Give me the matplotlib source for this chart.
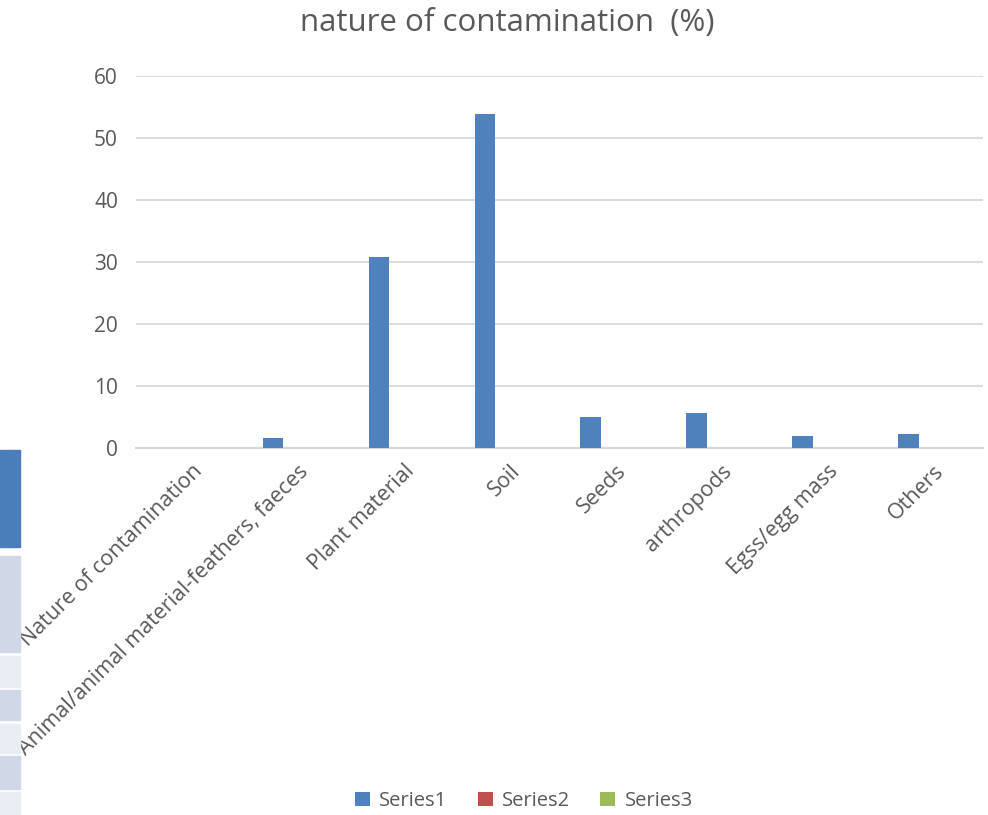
import numpy as np
import matplotlib.pyplot as plt
from matplotlib.patches import Rectangle
import matplotlib.transforms as mtransforms

plt.rcParams['font.family'] = ['Open Sans', 'DejaVu Sans']

categories = ['Nature of contamination',
              'Animal/animal material-feathers, faeces',
              'Plant material', 'Soil', 'Seeds', 'arthropods',
              'Egss/egg mass', 'Others']
series1 = [0, 1.7, 30.8, 53.8, 5.1, 5.7, 2.0, 2.35]
series2 = [0, 0, 0, 0, 0, 0, 0, 0]
series3 = [0, 0, 0, 0, 0, 0, 0, 0]
series_names = ['Series1', 'Series2', 'Series3']
colors = ['#4F81BD', '#C0504D', '#9BBB59']
yticks = [0, 10, 20, 30, 40, 50, 60]

txt = '#595959'
W, H = 988, 815
fig = plt.figure(figsize=(W / 100, H / 100), dpi=100)
ax = fig.add_axes([136 / W, 1 - 448.3 / H, (983 - 136) / W, (448.3 - 75.7) / H])

x = np.arange(len(categories))
bw = 0.195
for k, vals in enumerate([series1, series2, series3]):
    ax.bar(x + (k - 1) * 0.205, vals, width=bw, color=colors[k],
           label=series_names[k], zorder=3)

ax.set_xlim(-0.5, len(categories) - 0.5)
ax.set_ylim(0, 60)
ax.set_yticks(yticks)
ax.set_yticklabels([str(v) for v in yticks], fontsize=15, color=txt)
ax.tick_params(axis='y', length=0, pad=13)
ax.yaxis.grid(True, color='#d9d9d9', linewidth=1.3, zorder=0)
for s in ['top', 'right', 'left']:
    ax.spines[s].set_visible(False)
ax.spines['bottom'].set_color('#d9d9d9')
ax.spines['bottom'].set_linewidth(1.6)

ax.set_xticks(x)
ax.set_xticklabels(categories, rotation=45, ha='right', va='top',
                   rotation_mode='anchor', fontsize=15.5, color=txt)
ax.tick_params(axis='x', length=0, pad=9)
shift = mtransforms.ScaledTranslation(3 / 100, 0, fig.dpi_scale_trans)
for lab in ax.get_xticklabels():
    lab.set_transform(lab.get_transform() + shift)

fig.text(507 / W, 1 - 23 / H, 'nature of contamination  (%)', ha='center',
         va='center', fontsize=22.5, color=txt)

handles, labels = ax.get_legend_handles_labels()
fig.legend(handles, labels, loc='center', bbox_to_anchor=(524 / W, 1 - 801 / H),
           ncol=3, frameon=False, fontsize=14.5, labelcolor=txt,
           handlelength=0.75, handleheight=0.75, handletextpad=0.45,
           columnspacing=1.5)

# strip of a table peeking in at the left edge
strip = [(450, 547, '#4a7ebb'), (556, 652, '#d0d8e8'), (656, 687, '#e9edf4'),
         (690, 720, '#d0d8e8'), (724, 753, '#e9edf4'), (756, 789, '#d0d8e8'),
         (792, 815, '#e9edf4')]
for y0, y1, c in strip:
    fig.patches.append(Rectangle((0, 1 - y1 / H), 19.5 / W, (y1 - y0) / H,
                                 transform=fig.transFigure, color=c, zorder=0))

fig.savefig('out.png', dpi=100)
